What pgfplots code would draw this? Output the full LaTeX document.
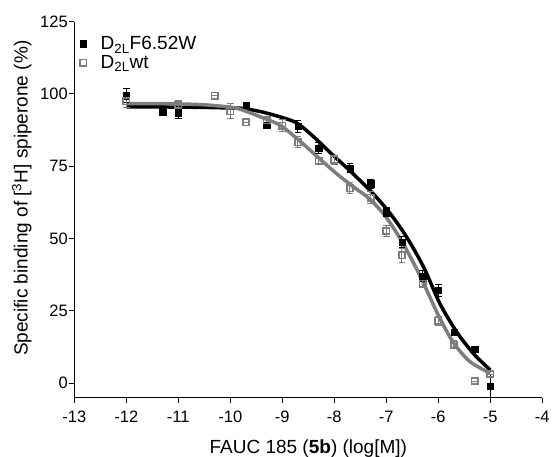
\documentclass[border=0pt]{standalone}
\usepackage{pgfplots}
\pgfplotsset{compat=1.18}
\usepackage{fontspec}
\setmainfont{Liberation Sans}
\definecolor{wtgray}{RGB}{125,125,125}

\begin{document}
\begin{tikzpicture}
\begin{axis}[
    scale only axis,
    width=468pt, height=376pt,
    xmin=-13, xmax=-4, ymin=-5, ymax=125,
    axis lines=left,
    axis line style={-, line width=1pt},
    xtick={-13,-12,-11,-10,-9,-8,-7,-6,-5,-4},
    xticklabels={-13,-12,-11,-10,-9,-8,-7,-6,-5,-4},
    ytick={0,25,50,75,100,125},
    tick align=outside,
    tick style={line width=1pt, black},
    major tick length=5pt,
    ticklabel style={font=\fontsize{16.5}{18}\selectfont},
    xticklabel style={yshift=-5pt},
    yticklabel style={xshift=2pt},
    /pgf/number format/assume math mode=true,
    xlabel={FAUC 185 (\textbf{5b}) (log[M])},
    ylabel={Specific binding of [\textsuperscript{3}H] spiperone (\%)},
    label style={font=\fontsize{19}{22}\selectfont},
    xlabel style={at={(axis description cs:0.5,-0.148)}, anchor=base},
    ylabel style={at={(axis description cs:-0.112,0.53)}, anchor=center},
    legend style={draw=none, fill=none, at={(axis description cs:0.003,0.97)}, anchor=north west,
        font=\fontsize{19}{22}\selectfont, row sep=1pt, nodes={inner sep=1.5pt}},
    legend cell align=left,
    legend image code/.code={\draw[#1] plot coordinates {(0.15cm,0cm)}; \path (0,0) (0.7cm,0);},
    clip=false,
]
\coordinate (sw) at (rel axis cs:0,0);
\coordinate (ne) at (rel axis cs:1,1);
% legend
\addlegendimage{only marks, mark=square*, mark size=3.2pt, black}
\addlegendentry{D\textsubscript{2L}F6.52W}
\addlegendimage{only marks, mark=square, mark size=3.2pt, mark options={draw=wtgray, fill=white, line width=1.6pt}}
\addlegendentry{D\textsubscript{2L}wt}

% fitted curves
\addplot[black, line width=3.5pt, smooth, forget plot] coordinates {
(-12,95.5) (-11.5,95.5) (-11,95.4) (-10.5,95.3) (-10,95.1) (-9.8,95)
(-9.43,93.9) (-9.04,92) (-8.72,89.9) (-8.4,85.2) (-8.08,79.7) (-7.7,73.4)
(-7.28,66) (-6.93,58.7) (-6.61,50.5) (-6.28,40) (-5.97,27.5) (-5.65,17.8)
(-5.33,10.3) (-5,4.5)
};
\addplot[wtgray, line width=3.5pt, smooth, forget plot] coordinates {
(-12,96.6) (-11.5,96.6) (-11,96.5) (-10.5,96.2) (-10,95.4) (-9.8,94.6)
(-9.43,92.1) (-9.04,89.1) (-8.69,84.1) (-8.31,78) (-7.95,72.3) (-7.63,67.8)
(-7.31,63.5) (-6.99,57) (-6.67,48) (-6.35,37) (-6,23.5) (-5.71,14)
(-5.39,7.4) (-5,3.4)
};

% F6.52W
\addplot[only marks, mark=square*, mark size=3.2pt, black, forget plot,
    error bars/.cd, y dir=both, y explicit,
    error bar style={line width=0.9pt, black},
    error mark options={rotate=90, mark size=3.3pt, line width=0.9pt, black}]
table[y error=e] {
x y e
-12 99.4 2.5
-11.3 93.7 1.2
-11 93.5 2
-9.7 96 0.6
-9.3 89.1 1
-8.7 88.7 2
-8.3 81.3 2
-7.7 74.3 1.5
-7.3 68.9 1.5
-7 59.2 1.5
-6.7 48.8 2
-6.3 37 2
-6 32.1 2
-5.7 17.5 1
-5.3 11.7 1
-5 -1 4
};

% wt
\addplot[only marks, mark=square, mark size=3.2pt, forget plot,
    mark options={draw=wtgray, fill=white, line width=1.6pt},
    error bars/.cd, y dir=both, y explicit,
    error bar style={line width=0.9pt, wtgray},
    error mark options={rotate=90, mark size=3.3pt, line width=0.9pt, draw=wtgray}]
table[y error=e] {
x y e
-12 97.4 2
-11 96.3 1.5
-10.3 99.4 0
-10 94 2.5
-9.7 90.2 0
-9.3 90.8 1
-9 89 2
-8.7 83.3 2
-8.3 76.8 1
-8 77.2 1.5
-7.7 67.4 2
-7.3 64.1 2
-7 52.6 2
-6.7 44.2 2.5
-6.3 34.4 1.5
-6 21.5 1.5
-5.7 13.3 1.5
-5.3 0.7 0
-5 3.1 0
};
\end{axis}
\pgfresetboundingbox
\path ([shift={(-74.3pt,-58.7pt)}]sw) rectangle ([shift={(10.7pt,21.5pt)}]ne);
\end{tikzpicture}
\end{document}
